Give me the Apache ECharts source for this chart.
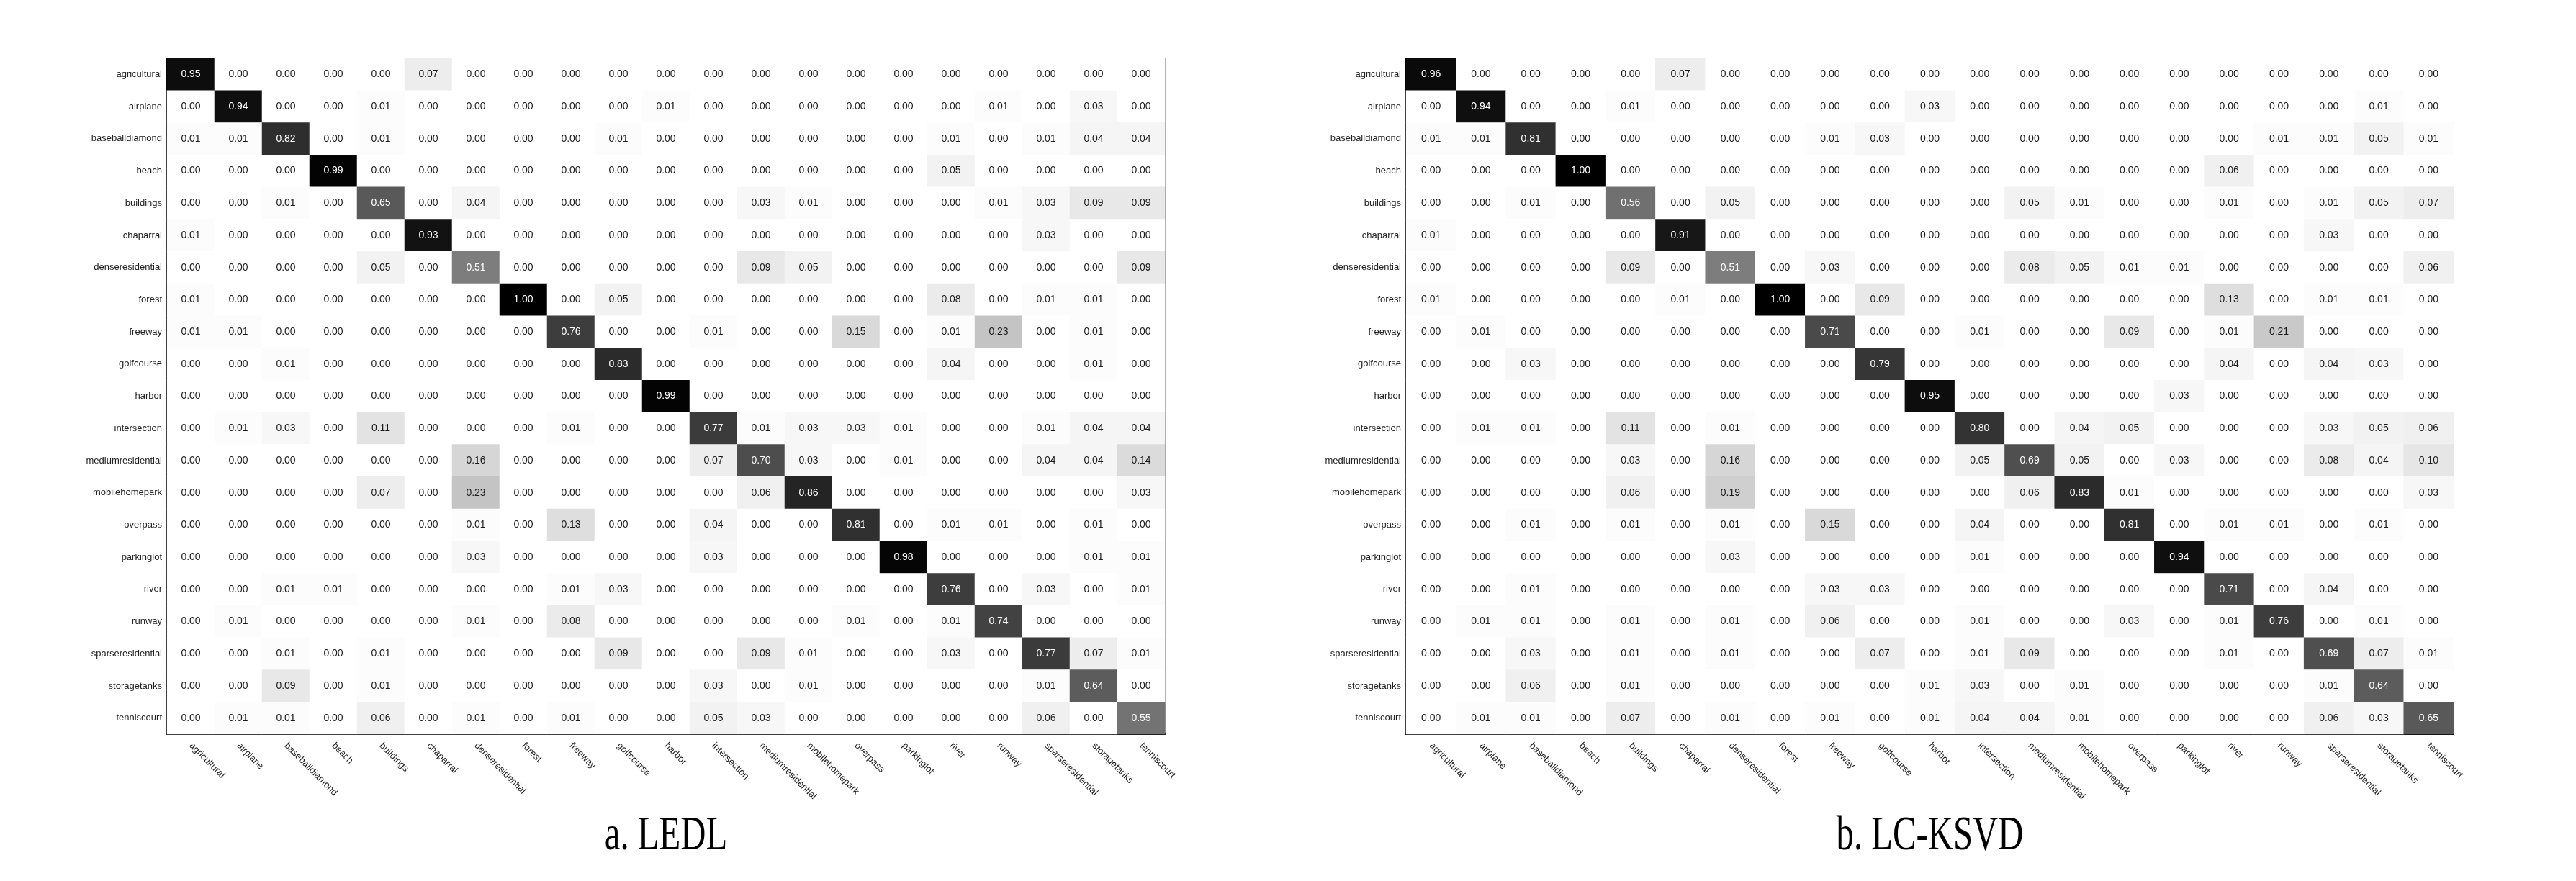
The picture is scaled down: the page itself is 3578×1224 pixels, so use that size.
<!DOCTYPE html>
<html><head><meta charset="utf-8">
<script src="https://cdn.jsdelivr.net/npm/echarts@6/dist/echarts.min.js"></script>
<style>html,body{margin:0;padding:0;background:#fff}#c{width:3578px;height:1224px}</style>
</head><body><div id="c"></div>
<script>
const categories = ['agricultural','airplane','baseballdiamond','beach','buildings','chaparral','denseresidential','forest','freeway','golfcourse','harbor','intersection','mediumresidential','mobilehomepark','overpass','parkinglot','river','runway','sparseresidential','storagetanks','tenniscourt'];

const ledlMatrix = [
 [0.95,0,0,0,0,0.07,0,0,0,0,0,0,0,0,0,0,0,0,0,0,0],
 [0,0.94,0,0,0.01,0,0,0,0,0,0.01,0,0,0,0,0,0,0.01,0,0.03,0],
 [0.01,0.01,0.82,0,0.01,0,0,0,0,0.01,0,0,0,0,0,0,0.01,0,0.01,0.04,0.04],
 [0,0,0,0.99,0,0,0,0,0,0,0,0,0,0,0,0,0.05,0,0,0,0],
 [0,0,0.01,0,0.65,0,0.04,0,0,0,0,0,0.03,0.01,0,0,0,0.01,0.03,0.09,0.09],
 [0.01,0,0,0,0,0.93,0,0,0,0,0,0,0,0,0,0,0,0,0.03,0,0],
 [0,0,0,0,0.05,0,0.51,0,0,0,0,0,0.09,0.05,0,0,0,0,0,0,0.09],
 [0.01,0,0,0,0,0,0,1.00,0,0.05,0,0,0,0,0,0,0.08,0,0.01,0.01,0],
 [0.01,0.01,0,0,0,0,0,0,0.76,0,0,0.01,0,0,0.15,0,0.01,0.23,0,0.01,0],
 [0,0,0.01,0,0,0,0,0,0,0.83,0,0,0,0,0,0,0.04,0,0,0.01,0],
 [0,0,0,0,0,0,0,0,0,0,0.99,0,0,0,0,0,0,0,0,0,0],
 [0,0.01,0.03,0,0.11,0,0,0,0.01,0,0,0.77,0.01,0.03,0.03,0.01,0,0,0.01,0.04,0.04],
 [0,0,0,0,0,0,0.16,0,0,0,0,0.07,0.70,0.03,0,0.01,0,0,0.04,0.04,0.14],
 [0,0,0,0,0.07,0,0.23,0,0,0,0,0,0.06,0.86,0,0,0,0,0,0,0.03],
 [0,0,0,0,0,0,0.01,0,0.13,0,0,0.04,0,0,0.81,0,0.01,0.01,0,0.01,0],
 [0,0,0,0,0,0,0.03,0,0,0,0,0.03,0,0,0,0.98,0,0,0,0.01,0.01],
 [0,0,0.01,0.01,0,0,0,0,0.01,0.03,0,0,0,0,0,0,0.76,0,0.03,0,0.01],
 [0,0.01,0,0,0,0,0.01,0,0.08,0,0,0,0,0,0.01,0,0.01,0.74,0,0,0],
 [0,0,0.01,0,0.01,0,0,0,0,0.09,0,0,0.09,0.01,0,0,0.03,0,0.77,0.07,0.01],
 [0,0,0.09,0,0.01,0,0,0,0,0,0,0.03,0,0.01,0,0,0,0,0.01,0.64,0],
 [0,0.01,0.01,0,0.06,0,0.01,0,0.01,0,0,0.05,0.03,0,0,0,0,0,0.06,0,0.55]
];

const lcksvdMatrix = [
 [0.96,0,0,0,0,0.07,0,0,0,0,0,0,0,0,0,0,0,0,0,0,0],
 [0,0.94,0,0,0.01,0,0,0,0,0,0.03,0,0,0,0,0,0,0,0,0.01,0],
 [0.01,0.01,0.81,0,0,0,0,0,0.01,0.03,0,0,0,0,0,0,0,0.01,0.01,0.05,0.01],
 [0,0,0,1.00,0,0,0,0,0,0,0,0,0,0,0,0,0.06,0,0,0,0],
 [0,0,0.01,0,0.56,0,0.05,0,0,0,0,0,0.05,0.01,0,0,0.01,0,0.01,0.05,0.07],
 [0.01,0,0,0,0,0.91,0,0,0,0,0,0,0,0,0,0,0,0,0.03,0,0],
 [0,0,0,0,0.09,0,0.51,0,0.03,0,0,0,0.08,0.05,0.01,0.01,0,0,0,0,0.06],
 [0.01,0,0,0,0,0.01,0,1.00,0,0.09,0,0,0,0,0,0,0.13,0,0.01,0.01,0],
 [0,0.01,0,0,0,0,0,0,0.71,0,0,0.01,0,0,0.09,0,0.01,0.21,0,0,0],
 [0,0,0.03,0,0,0,0,0,0,0.79,0,0,0,0,0,0,0.04,0,0.04,0.03,0],
 [0,0,0,0,0,0,0,0,0,0,0.95,0,0,0,0,0.03,0,0,0,0,0],
 [0,0.01,0.01,0,0.11,0,0.01,0,0,0,0,0.80,0,0.04,0.05,0,0,0,0.03,0.05,0.06],
 [0,0,0,0,0.03,0,0.16,0,0,0,0,0.05,0.69,0.05,0,0.03,0,0,0.08,0.04,0.10],
 [0,0,0,0,0.06,0,0.19,0,0,0,0,0,0.06,0.83,0.01,0,0,0,0,0,0.03],
 [0,0,0.01,0,0.01,0,0.01,0,0.15,0,0,0.04,0,0,0.81,0,0.01,0.01,0,0.01,0],
 [0,0,0,0,0,0,0.03,0,0,0,0,0.01,0,0,0,0.94,0,0,0,0,0],
 [0,0,0.01,0,0,0,0,0,0.03,0.03,0,0,0,0,0,0,0.71,0,0.04,0,0],
 [0,0.01,0.01,0,0.01,0,0.01,0,0.06,0,0,0.01,0,0,0.03,0,0.01,0.76,0,0.01,0],
 [0,0,0.03,0,0.01,0,0.01,0,0,0.07,0,0.01,0.09,0,0,0,0.01,0,0.69,0.07,0.01],
 [0,0,0.06,0,0.01,0,0,0,0,0,0.01,0.03,0,0.01,0,0,0,0,0.01,0.64,0],
 [0,0.01,0.01,0,0.07,0,0.01,0,0.01,0,0.01,0.04,0.04,0.01,0,0,0,0,0.06,0.03,0.65]
];

const panelTitles = ['a. LEDL', 'b. LC-KSVD'];

const matrices = [ledlMatrix, lcksvdMatrix];
const gridLefts = [232, 1953];
const gridWidths = [1386, 1455];
const gridTop = 81, gridH = 939;
const labelFont = "'Liberation Sans', Arial, sans-serif";

function toData(m) {
  const out = [];
  m.forEach((row, r) => row.forEach((v, c) => {
    out.push({ value: [c, r, v], label: { color: v > 0.5 ? '#ffffff' : '#1a1a1a' } });
  }));
  return out;
}

const chart = echarts.init(document.getElementById('c'), null, { renderer: 'canvas' });
const option = {
  backgroundColor: '#ffffff',
  animation: false,
  grid: gridLefts.map((l, i) => ({
    left: l, top: gridTop, width: gridWidths[i], height: gridH,
    show: true, borderColor: '#777', borderWidth: 1.5, backgroundColor: 'transparent'
  })),
  xAxis: gridLefts.map((l, i) => ({
    type: 'category', gridIndex: i, data: categories, position: 'bottom',
    axisLine: { show: true, lineStyle: { color: '#000', width: 2 } },
    axisTick: { show: false },
    splitLine: { show: false },
    axisLabel: { interval: 0, rotate: -45, margin: 14, fontSize: 13, color: '#222', fontFamily: labelFont }
  })),
  yAxis: gridLefts.map((l, i) => ({
    type: 'category', gridIndex: i, data: categories, inverse: true,
    axisLine: { show: true, lineStyle: { color: '#000', width: 2 } },
    axisTick: { show: false },
    splitLine: { show: false },
    axisLabel: { interval: 0, margin: 7, fontSize: 13, color: '#222', fontFamily: labelFont }
  })),
  visualMap: matrices.map((m, i) => ({
    show: false, seriesIndex: i, dimension: 2, min: 0, max: 1,
    inRange: { color: ['#ffffff', '#000000'] }
  })),
  series: matrices.map((m, i) => ({
    type: 'heatmap', xAxisIndex: i, yAxisIndex: i,
    data: toData(m),
    label: {
      show: true, fontSize: 14, fontFamily: labelFont,
      formatter: p => p.value[2].toFixed(2)
    },
    itemStyle: { borderWidth: 0 },
    emphasis: { disabled: true }
  })),
  graphic: panelTitles.map((t, i) => ({
    type: 'text',
    x: gridLefts[i] + gridWidths[i] / 2,
    y: 1162,
    scaleX: 0.84,
    scaleY: 1.16,
    style: {
      text: t, fill: '#000',
      font: "58px 'Liberation Serif', 'Times New Roman', serif",
      fontSize: 58, fontFamily: "'Liberation Serif', serif",
      align: 'center', verticalAlign: 'middle',
      textAlign: 'center', textVerticalAlign: 'middle'
    }
  }))
};
chart.setOption(option);
</script>
</body></html>
